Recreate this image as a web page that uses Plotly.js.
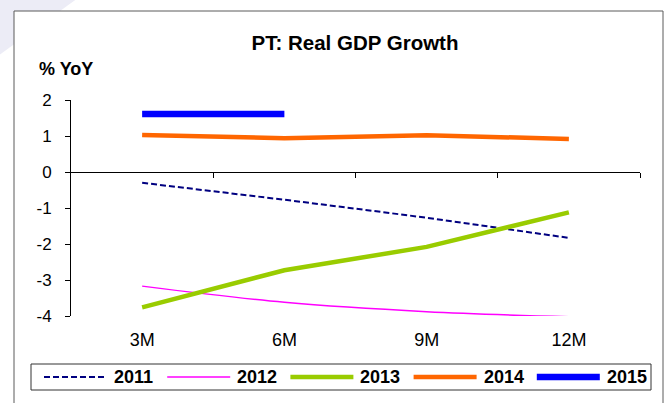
<!DOCTYPE html>
<html>
<head>
<meta charset="utf-8">
<script src="https://cdn.plot.ly/plotly-3.0.1.min.js"></script>
<style>
  html, body { margin: 0; padding: 0; background: #ffffff; }
  #chart { width: 669px; height: 403px; }
</style>
</head>
<body>
<div id="chart"></div>
<script>
// ---- data ----
var categories = ["3M", "6M", "9M", "12M"];
var seriesNames = ["2011", "2012", "2013", "2014", "2015"];
var values2011 = [-0.30, -0.77, -1.27, -1.83];
var values2012 = [-3.17, -3.62, -3.88, -4.02];
var values2013 = [-3.76, -2.73, -2.08, -1.12];
var values2014 = [1.03, 0.94, 1.02, 0.92];
var values2015 = [1.61, 1.61];
var yTickVals = [-4, -3, -2, -1, 0, 1, 2];
var yTickText = ["-4", "-3", "-2", "-1", "0", "1", "2"];

// ---- styles ----
var FONT = "Liberation Sans, Arial, sans-serif";
var styles = [
  {color: "#000080", width: 2,   dash: "6px,3px", shape: "linear"},
  {color: "#FF00FF", width: 1.5, dash: "solid",   shape: "spline"},
  {color: "#99CC00", width: 4.5, dash: "solid",   shape: "linear"},
  {color: "#FF6600", width: 4.5, dash: "solid",   shape: "linear"},
  {color: "#0000FF", width: 6.5, dash: "solid",   shape: "linear"}
];
var allValues = [values2011, values2012, values2013, values2014, values2015];

// layout geometry (pixels)
var W = 669, H = 403;
var M = {l: 71, r: 29, t: 100, b: 87};
var PW = W - M.l - M.r, PH = H - M.t - M.b;
function px(x) { return (x - M.l) / PW; }
function py(y) { return (H - M.b - y) / PH; }

var traces = allValues.map(function (vals, i) {
  return {
    type: "scatter",
    mode: "lines",
    name: seriesNames[i],
    x: categories.slice(0, vals.length),
    y: vals,
    line: {color: styles[i].color, width: styles[i].width, dash: styles[i].dash, shape: styles[i].shape},
    showlegend: false,
    hoverinfo: "skip"
  };
});
// invisible trace to activate the zero-line axis
traces.push({type: "scatter", x: [0], y: [0], xaxis: "x2", mode: "markers",
             marker: {opacity: 0}, showlegend: false, hoverinfo: "skip"});

var shapes = [
  // background swoosh
  {type: "path", xref: "paper", yref: "paper", layer: "below",
   path: "M" + px(-2) + "," + py(-2) + " L" + px(78) + "," + py(-2) + " L" + px(-2) + "," + py(56) + " Z",
   fillcolor: "#ECECF6", line: {width: 0}},
  // chart frame
  {type: "rect", xref: "paper", yref: "paper", layer: "below",
   x0: px(14), x1: px(663), y0: py(11), y1: py(430),
   fillcolor: "#ffffff", line: {color: "#5a5a5a", width: 1}},
  // legend frame
  {type: "rect", xref: "paper", yref: "paper",
   x0: px(31), x1: px(651), y0: py(364), y1: py(390),
   fillcolor: "rgba(0,0,0,0)", line: {color: "#333333", width: 1}}
];
var annotations = [
  {xref: "paper", yref: "paper", x: px(37), y: py(69), xanchor: "left", yanchor: "middle",
   text: "<b>% YoY</b>", showarrow: false, font: {family: FONT, size: 18, color: "#000"}}
];
var legendY = py(377);
seriesNames.forEach(function (name, i) {
  var x0 = 44 + i * 123.2;
  var x1 = x0 + 63;
  shapes.push({type: "line", xref: "paper", yref: "paper",
    x0: px(x0), x1: px(x1), y0: legendY, y1: legendY,
    line: {color: styles[i].color, width: styles[i].width, dash: styles[i].dash}});
  annotations.push({xref: "paper", yref: "paper", x: px(x1 + 5), y: legendY,
    xanchor: "left", yanchor: "middle", showarrow: false,
    text: "<b>" + name + "</b>", font: {family: FONT, size: 18, color: "#000"}});
});

var layout = {
  width: W, height: H,
  margin: M,
  paper_bgcolor: "rgba(0,0,0,0)",
  plot_bgcolor: "rgba(0,0,0,0)",
  font: {family: FONT, color: "#000"},
  title: {text: "<b>PT: Real GDP Growth</b>", xref: "container", yref: "container",
          x: 355 / W, y: 1 - 43 / H, xanchor: "center", yanchor: "middle",
          font: {family: FONT, size: 20.5, color: "#000"}},
  showlegend: false,
  xaxis: {type: "category", categoryorder: "array", categoryarray: categories,
          range: [-0.5, 3.5], showline: false, showgrid: false, zeroline: false,
          ticks: "", ticklabelstandoff: 11, tickfont: {family: FONT, size: 18, color: "#000"},
          fixedrange: true},
  xaxis2: {overlaying: "x", anchor: "free", position: 4 / 6, range: [-0.5, 3.5],
           showline: true, linecolor: "#000", linewidth: 1, showgrid: false, zeroline: false,
           ticks: "outside", ticklen: 5, tickcolor: "#000", tickwidth: 1,
           tickvals: [0.5, 1.5, 2.5, 3.5], showticklabels: false, fixedrange: true},
  yaxis: {range: [-4, 2], tickvals: yTickVals, ticktext: yTickText, showline: true,
          linecolor: "#000", linewidth: 1,
          ticks: "outside", ticklen: 5, tickcolor: "#000", showgrid: false, zeroline: false,
          ticklabelstandoff: 10,
          tickfont: {family: FONT, size: 17, color: "#000"}, fixedrange: true},
  shapes: shapes,
  annotations: annotations
};

Plotly.newPlot("chart", traces, layout, {displayModeBar: false, staticPlot: true});
</script>
</body>
</html>
